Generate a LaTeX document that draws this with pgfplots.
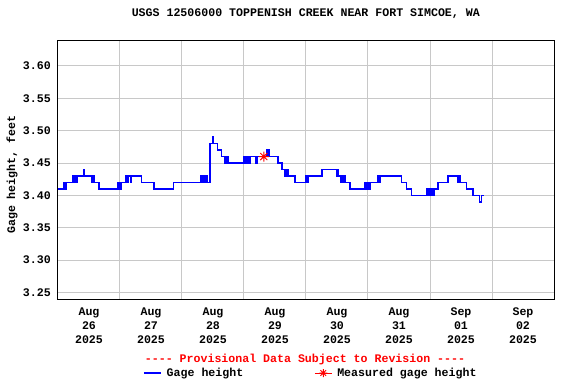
\documentclass[border=0pt]{standalone}
\usepackage{pgfplots}
\pgfplotsset{compat=1.18}
\usepackage{fontspec}
\setmainfont{Liberation Mono}[Ligatures=TeXOff]
\newcommand\lblfont{\fontsize{11.6}{14}\selectfont\bfseries}
\definecolor{gridgray}{RGB}{200,200,200}
\pgfdeclareplotmark{usgsstar}{%
  \pgfpathmoveto{\pgfqpoint{0pt}{\pgfplotmarksize}}\pgfpathlineto{\pgfqpoint{0pt}{-\pgfplotmarksize}}%
  \pgfpathmoveto{\pgfqpoint{\pgfplotmarksize}{0pt}}\pgfpathlineto{\pgfqpoint{-\pgfplotmarksize}{0pt}}%
  \pgfpathmoveto{\pgfqpoint{.7071\pgfplotmarksize}{.7071\pgfplotmarksize}}\pgfpathlineto{\pgfqpoint{-.7071\pgfplotmarksize}{-.7071\pgfplotmarksize}}%
  \pgfpathmoveto{\pgfqpoint{-.7071\pgfplotmarksize}{.7071\pgfplotmarksize}}\pgfpathlineto{\pgfqpoint{.7071\pgfplotmarksize}{-.7071\pgfplotmarksize}}%
  \pgfusepathqstroke}
\pgfplotsset{
  lineleg/.style={legend image code/.code={\draw[##1] (0pt,0pt) -- (17pt,0pt);}},
  starleg/.style={legend image code/.code={\path (0pt,0pt) -- (17pt,0pt); \draw[##1, mark size=4pt] plot coordinates {(8.5pt,0pt)};}},
}
\begin{document}
\begin{tikzpicture}[font=\lblfont]
\useasboundingbox (-58pt,-85pt) rectangle (518pt,299pt);
\begin{axis}[
  at={(0pt,0pt)}, anchor=south west,
  scale only axis, width=496pt, height=259pt,
  xmin=0, xmax=8, ymin=3.24, ymax=3.64,
  axis line style={black, line width=1pt},
  xtick={0.5,1.5,2.5,3.5,4.5,5.5,6.5,7.5},
  xticklabels={{Aug\\26\\2025},{Aug\\27\\2025},{Aug\\28\\2025},{Aug\\29\\2025},{Aug\\30\\2025},{Aug\\31\\2025},{Sep\\01\\2025},{Sep\\02\\2025}},
  minor xtick={1,2,3,4,5,6,7},
  xminorgrids=true, xmajorgrids=false,
  ytick={3.25,3.30,3.35,3.40,3.45,3.50,3.55,3.60},
  yticklabels={3.25,3.30,3.35,3.40,3.45,3.50,3.55,3.60},
  ymajorgrids=true,
  major tick length=0pt, minor tick length=0pt,
  grid style={gridgray, line width=1pt},
  minor grid style={gridgray, line width=1pt},
  xticklabel style={align=center, font=\lblfont, inner sep=0pt, anchor=north, yshift=-9pt},
  yticklabel style={font=\lblfont, inner sep=0pt, anchor=east, xshift=-7pt},
  ylabel={Gage height, feet},
  ylabel style={at={(axis description cs:-0.0927,0.48)}, anchor=center, font=\lblfont},
  title={USGS 12506000 TOPPENISH CREEK NEAR FORT SIMCOE, WA},
  title style={at={(axis description cs:0.4996,1.077)}, anchor=center, font=\lblfont},
  clip=false,
  legend columns=2,
  legend cell align=left,
  legend style={draw=none, fill=none, inner sep=0pt, font=\lblfont,
    at={(axis description cs:0.1714,-0.2857)}, anchor=west,
    nodes={inner sep=0pt},
    /tikz/every odd column/.append style={column sep=5pt},
    /tikz/every even column/.append style={column sep=71pt}},
]
\addplot[blue, solid, line width=1.5pt, const plot, mark=none, lineleg]
coordinates {
(0.00,3.41)(0.10,3.42)(0.11,3.41)(0.12,3.42)(0.13,3.41)(0.14,3.42)
(0.24,3.43)(0.26,3.42)(0.28,3.43)(0.30,3.42)(0.31,3.43)(0.41,3.44)(0.43,3.43)
(0.55,3.42)(0.57,3.43)(0.58,3.42)(0.66,3.41)
(0.97,3.42)(0.98,3.41)(1.00,3.42)(1.01,3.41)(1.02,3.42)
(1.10,3.43)(1.13,3.42)(1.14,3.43)(1.17,3.42)(1.18,3.43)
(1.35,3.42)(1.55,3.41)(1.86,3.42)
(2.30,3.43)(2.31,3.42)(2.33,3.43)(2.34,3.42)(2.36,3.43)(2.37,3.42)(2.39,3.43)(2.40,3.42)
(2.45,3.48)(2.49,3.49)(2.51,3.48)(2.57,3.47)(2.64,3.46)(2.69,3.45)(2.70,3.46)(2.72,3.45)(2.73,3.46)(2.75,3.45)
(2.99,3.46)(3.00,3.45)(3.03,3.46)(3.04,3.45)(3.06,3.46)(3.07,3.45)(3.10,3.46)
(3.19,3.45)(3.21,3.46)(3.36,3.47)(3.37,3.46)(3.38,3.47)(3.39,3.46)(3.40,3.47)(3.41,3.46)
(3.55,3.45)(3.61,3.44)(3.66,3.43)(3.67,3.44)(3.69,3.43)(3.70,3.44)(3.72,3.43)
(3.82,3.42)(4.00,3.43)(4.01,3.42)(4.02,3.43)(4.03,3.42)(4.04,3.43)
(4.25,3.44)(4.26,3.43)(4.27,3.44)
(4.49,3.43)(4.51,3.44)(4.52,3.43)(4.56,3.42)(4.57,3.43)(4.60,3.42)(4.61,3.43)(4.63,3.42)
(4.71,3.41)(4.95,3.42)(4.97,3.41)(4.98,3.42)(5.02,3.41)(5.03,3.42)
(5.16,3.43)(5.17,3.42)(5.19,3.43)(5.54,3.42)(5.62,3.41)(5.70,3.40)
(5.95,3.41)(5.96,3.40)(5.98,3.41)(5.99,3.40)(6.01,3.41)(6.02,3.40)(6.04,3.41)(6.05,3.40)(6.07,3.41)
(6.13,3.42)(6.29,3.43)(6.45,3.42)(6.46,3.43)(6.48,3.42)(6.59,3.41)(6.69,3.40)
(6.80,3.39)(6.83,3.40)(6.87,3.40)
};
\addlegendentry{Gage height}
\addplot[only marks, mark=usgsstar, mark size=5pt, red, line width=1pt, starleg]
coordinates {(3.32,3.46)};
\addlegendentry{Measured gage height}
\node[text=red, font=\lblfont, anchor=center] at (axis description cs:0.498,-0.2317) {---- Provisional Data Subject to Revision ----};
\end{axis}
\end{tikzpicture}
\end{document}
